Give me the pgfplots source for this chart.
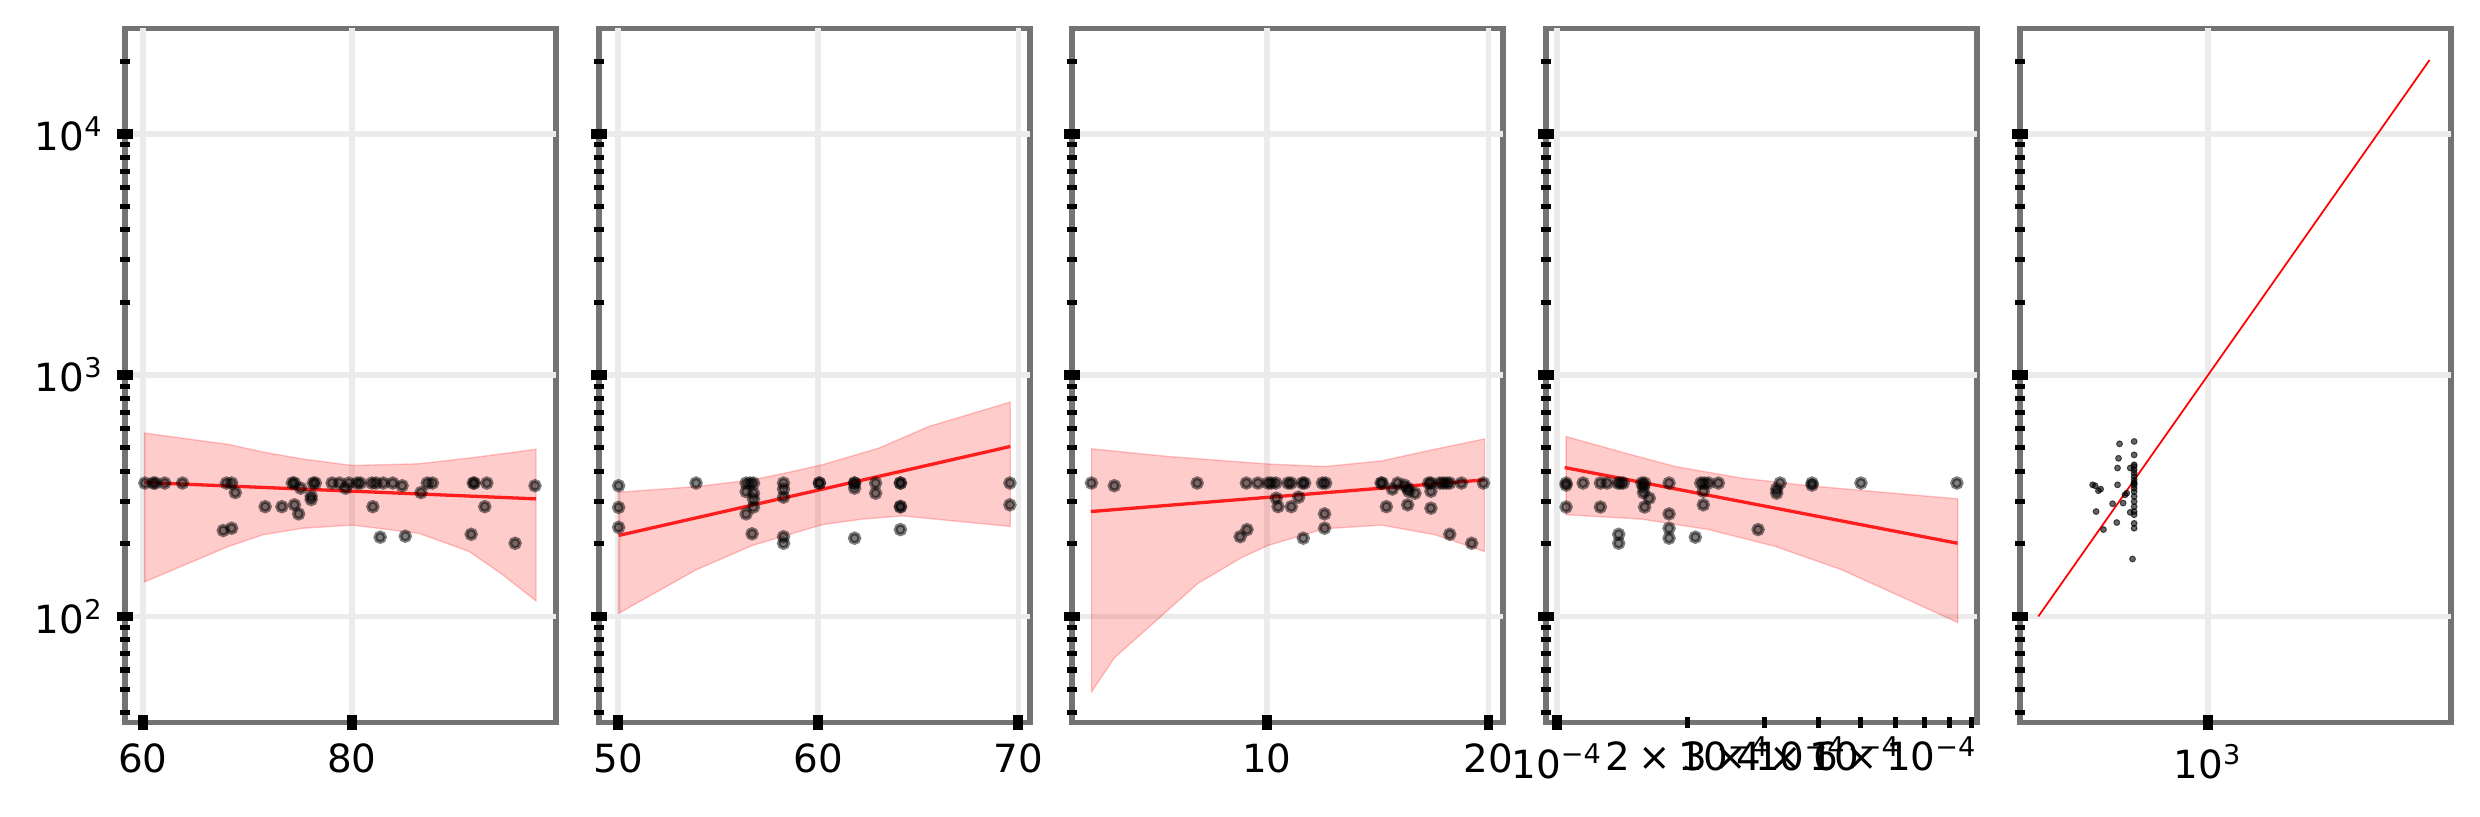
\documentclass[border=0pt]{standalone}
\usepackage{fontspec}
\setmainfont{DejaVu Sans}
\usepackage{pgfplots}
\pgfplotsset{compat=1.18}
\definecolor{spinegray}{RGB}{115,115,115}
\definecolor{gridgray}{RGB}{235,235,235}
\definecolor{fitred}{RGB}{255,30,30}
\pgfplotsset{
  /pgfplots/mypanel/.style={
    scale only axis, width=111.05pt, height=178.9pt,
    anchor=south west,
    ymin=36.3, ymax=27300,
    ytick={100,1000,10000},
    minor ytick={40,50,60,70,80,90,200,300,400,500,600,700,800,900,2000,3000,4000,5000,6000,7000,8000,9000,20000},
    tick align=center, tick pos=left,
    major tick length=4pt, minor tick length=2.7pt,
    every major tick/.append style={black, line width=2.5pt},
    every minor tick/.append style={black, line width=1.3pt},
    xmajorgrids, ymajorgrids,
    major grid style={gridgray, line width=1.45pt},
    axis line style={draw=none},
    axis background/.style={draw=spinegray, line width=1.45pt},
    tick label style={font=\fontsize{10}{12}\selectfont},
  },
  /pgfplots/mypts/.style={only marks, mark=*, mark size=1.25pt, mark options={draw=black, fill=black, draw opacity=0.5, fill opacity=0.5, line width=0.95pt}},
  /pgfplots/myfit/.style={fitred, line width=0.85pt, no marks},
  /pgfplots/myband/.style={fill=red, fill opacity=0.2, draw=red, draw opacity=0.22, line width=0.35pt, no marks},
}
\begin{document}
\begin{tikzpicture}
\path[use as bounding box] (0,0) rectangle (639.1pt,210.54pt);
% ---------------- panel 1
\begin{axis}[ymode=log, mypanel, at={(32.21pt,24.3pt)},
  xmin=58.3, xmax=99.5, xtick={60,80}, xticklabels={60,80},
  yticklabels={10\textsuperscript{2},10\textsuperscript{3},10\textsuperscript{4}}]
\addplot[myband] coordinates {(60.16,575) (68.2,516) (71.5,480) (75.3,449) (80.05,422) (86.4,429) (91.2,453) (94.4,472) (97.6,493)
 (97.6,116) (94.4,149) (91.2,186) (86.4,221) (80.05,239) (75.3,232) (71.5,218) (68.2,195) (60.16,139)} -- cycle;
\addplot[mypts] coordinates {(60.2,357) (61.0,357) (61.2,357) (62.1,357) (63.8,357)
 (67.7,227) (68.5,232) (68.0,357) (68.5,357) (68.85,326)
 (71.7,285) (73.3,285) (74.3,357) (74.5,357) (74.5,290) (74.9,266) (75.1,340)
 (76.1,315) (76.1,305) (76.3,357) (76.5,357) (78.1,357) (78.8,357) (79.4,340) (79.7,357)
 (80.5,357) (80.8,357) (81.9,357) (82.0,285) (82.3,357) (83.0,357) (82.7,213) (83.9,357)
 (84.8,348) (85.1,215) (86.6,326) (87.2,357) (87.7,357) (91.4,219) (91.6,357) (91.7,357)
 (92.7,285) (92.9,357) (95.6,201) (97.5,348)};
\addplot[myfit] coordinates {(60.16,359) (97.6,307)};
\end{axis}
% ---------------- panel 2
\begin{axis}[ymode=log, mypanel, at={(154.36pt,24.3pt)}, yticklabels={},
  xmin=49.05, xmax=70.58, xtick={50,60,70}, xticklabels={50,60,70}]
\addplot[myband] coordinates {(50.03,327) (53.9,345) (56.72,368) (58.38,393) (60.2,425) (63.03,498) (65.52,612) (69.6,773)
 (69.6,236) (64.19,261) (62.2,253) (60.2,240) (56.72,197) (53.9,156) (50.03,103)} -- cycle;
\addplot[mypts] coordinates {(50.03,348) (50.03,283) (50.03,234)
 (53.9,357)
 (56.4,357) (56.6,357) (56.77,357) (56.4,329) (56.77,324) (56.77,306) (56.77,284) (56.4,266) (56.7,220)
 (58.27,357) (58.27,337) (58.27,312) (58.27,214) (58.27,201)
 (60.06,357) (60.06,357)
 (61.82,357) (61.82,357) (61.82,340) (61.82,211)
 (62.87,357) (62.87,324)
 (64.11,357) (64.11,357) (64.11,286) (64.11,284) (64.11,229)
 (69.58,357) (69.58,290)};
\addplot[myfit] coordinates {(50.03,216.5) (69.6,506)};
\end{axis}
% ---------------- panel 3
\begin{axis}[ymode=log, mypanel, at={(276.25pt,24.3pt)}, yticklabels={},
  xmin=1.2, xmax=20.65, xtick={10,20}, xticklabels={10,20}]
\addplot[myband] coordinates {(2.08,495) (5.52,460) (10.05,428) (12.61,418) (15.17,441) (17.59,493) (19.82,544)
 (19.82,186) (17.59,218) (15.17,239) (12.61,231) (10.05,197) (8.84,175) (6.88,137) (3.11,67.3) (2.08,48.7)} -- cycle;
\addplot[mypts] coordinates {(2.08,357) (3.11,348) (6.85,357) (9.07,357) (9.59,357) (10.05,357) (10.2,357) (10.4,357)
 (8.79,214) (9.1,229) (10.42,309) (10.5,285) (11.09,357) (10.95,357) (11.1,285) (11.43,312)
 (11.6,357) (11.7,357) (11.64,211) (12.5,357) (12.65,357) (12.6,266) (12.6,232)
 (15.15,357) (15.2,357) (15.39,285) (15.66,337) (15.9,357) (16.2,350) (16.35,340) (16.4,330) (16.68,324) (16.35,290)
 (17.3,357) (17.4,357) (17.4,330) (17.4,281) (17.8,357) (17.95,357) (18.1,357) (18.25,357) (18.25,219) (18.78,357) (19.24,201) (19.77,357)};
\addplot[myfit] coordinates {(2.05,272) (19.82,368)};
\end{axis}
% ---------------- panel 4
\begin{axis}[ymode=log, xmode=log, mypanel, at={(398.40pt,24.3pt)}, yticklabels={},
  xmin=0.943e-4, xmax=9.24e-4,
  xtick={1e-4}, xticklabels={10\textsuperscript{−4}},
  minor xtick={2e-4,3e-4,4e-4,5e-4,6e-4,7e-4,8e-4,9e-4},
  extra x ticks={2e-4,3e-4,4e-4,6e-4},
  extra x tick labels={2\hspace{0.2em}×\hspace{0.2em}10\textsuperscript{−4},3\hspace{0.2em}×\hspace{0.2em}10\textsuperscript{−4},4\hspace{0.2em}×\hspace{0.2em}10\textsuperscript{−4},6\hspace{0.2em}×\hspace{0.2em}10\textsuperscript{−4}},
  extra x tick style={major tick length=0pt, xmajorgrids=false}]
\addplot[myband] coordinates {(1.049e-4,556) (1.436e-4,475) (1.87e-4,418) (2.663e-4,374) (3.79e-4,348) (5.39e-4,329) (8.35e-4,307)
 (8.35e-4,94.4) (6.43e-4,117) (4.52e-4,156) (3.177e-4,195) (2.233e-4,229) (1.568e-4,253) (1.049e-4,264)} -- cycle;
\addplot[mypts] coordinates {(1.049e-4,357) (1.049e-4,350) (1.049e-4,284) (1.148e-4,357) (1.258e-4,357) (1.303e-4,357) (1.258e-4,284)
 (1.38e-4,357) (1.40e-4,357) (1.42e-4,357) (1.386e-4,219) (1.386e-4,201)
 (1.567e-4,357) (1.59e-4,357) (1.58e-4,343) (1.58e-4,326) (1.63e-4,309) (1.59e-4,284)
 (1.81e-4,357) (1.81e-4,266) (1.81e-4,232) (1.81e-4,211)
 (2.08e-4,213) (2.14e-4,357) (2.18e-4,357) (2.23e-4,357) (2.17e-4,330) (2.17e-4,290) (2.35e-4,357)
 (2.90e-4,229) (3.20e-4,337) (3.20e-4,324) (3.26e-4,357) (3.86e-4,357) (3.86e-4,350) (5.0e-4,357) (8.31e-4,357)};
\addplot[myfit] coordinates {(1.041e-4,414) (8.34e-4,201)};
\end{axis}
% ---------------- panel 5
\begin{axis}[ymode=log, xmode=log, mypanel, at={(520.55pt,24.3pt)}, yticklabels={},
  xmin=78, xmax=27000,
  xtick={1000}, xticklabels={10\textsuperscript{3}}, minor xtick={2000}, minor tick style={draw=none}, minor y tick style={draw=black}]
\addplot[only marks, mark=*, mark size=0.75pt, mark options={draw=black, fill=black, draw opacity=0.65, fill opacity=0.6, line width=0.25pt}]
 coordinates {(367,531) (367,467) (367,425) (367,418) (367,405) (367,393) (367,380) (367,368) (367,357) (367,357) (367,350) (367,340)
 (367,329) (367,314) (367,299) (367,285) (367,272) (367,264) (367,243) (367,232)
 (301,519) (297,452) (293,412) (348,412) (293,351) (209,351) (216,348) (226,332) (233,337) (332,324) (324,319)
 (274,293) (316,295) (219,272) (348,270) (290,245) (242,229) (359,173)};
\addplot[red, line width=0.45pt, no marks] coordinates {(100,100) (20200,20200)};
\end{axis}
\end{tikzpicture}
\end{document}
